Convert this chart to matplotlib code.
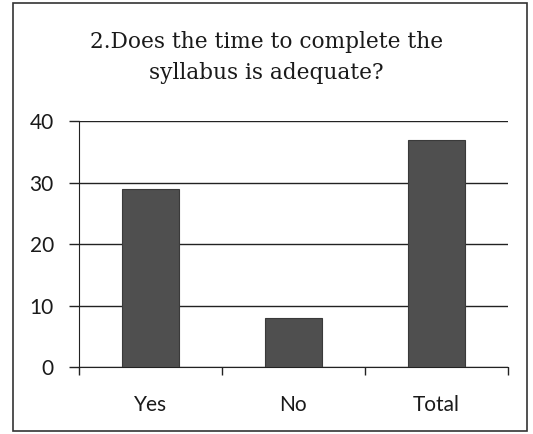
import matplotlib.pyplot as plt
from matplotlib.patches import Rectangle

categories = ["Yes", "No", "Total"]
values = [29, 8, 37]
yticks = [0, 10, 20, 30, 40]

fig = plt.figure(figsize=(5.33, 4.34), dpi=100)
ax = fig.add_axes([0.148, 0.154, 0.805, 0.567])

# border around the whole chart
fig.patches.append(Rectangle((0.024, 0.007), 0.965, 0.987, transform=fig.transFigure,
                             fill=False, edgecolor="#333333", linewidth=1.2))

x = range(len(categories))
ax.bar(x, values, width=0.4, color="#4f4f4f", edgecolor="#3a3a3a", linewidth=0.8, zorder=3)

ax.set_xlim(-0.5, 2.5)
ax.set_ylim(0, 40)
ax.set_yticks(yticks)
ax.yaxis.grid(True, color="#222222", linewidth=1.0, zorder=0)
ax.set_axisbelow(True)

ax.set_xticks([-0.5, 0.5, 1.5, 2.5])
ax.set_xticklabels([])
ax.set_xticks(list(x), minor=True)
ax.set_xticklabels(categories, minor=True, fontsize=15, family="Lato", color="#1a1a1a")
ax.tick_params(axis="x", which="minor", length=0, pad=20)
ax.tick_params(axis="x", which="major", length=6, width=1, color="#222222")
ax.tick_params(axis="y", length=7, width=1, color="#222222", labelsize=15, pad=11,
               labelcolor="#1a1a1a")
for lab in ax.get_yticklabels():
    lab.set_family("Lato")

for s in ["top", "right"]:
    ax.spines[s].set_visible(False)
ax.spines["left"].set_color("#222222")
ax.spines["bottom"].set_color("#222222")

fig.text(0.5, 0.868, "2.Does the time to complete the\nsyllabus is adequate?",
         ha="center", va="center", fontsize=15.6, family="DejaVu Serif",
         linespacing=1.5, color="#1a1a1a")

fig.savefig("out.png", dpi=100)
